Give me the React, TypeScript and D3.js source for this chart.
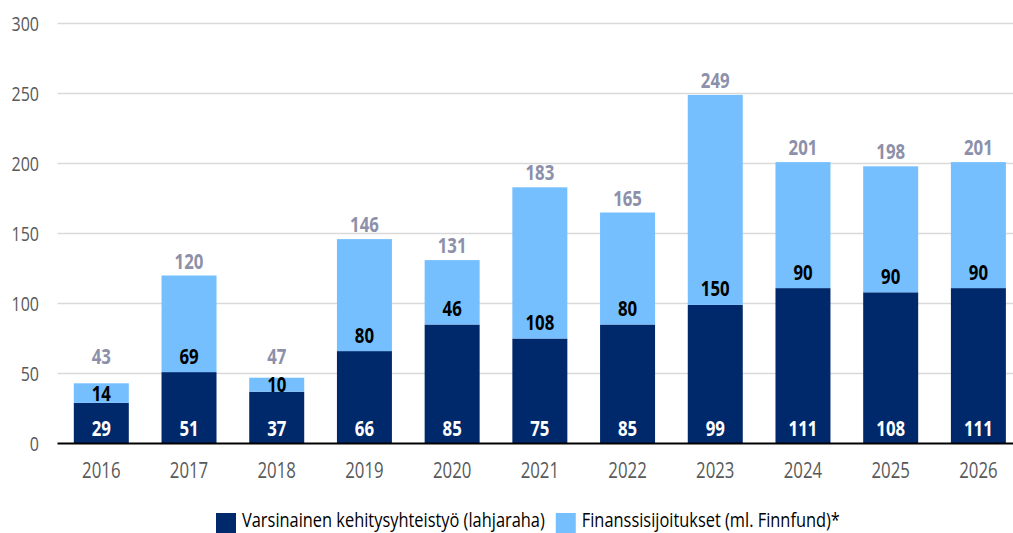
import React, { useEffect, useRef } from 'react';
import * as d3 from 'd3';

const years = ['2016', '2017', '2018', '2019', '2020', '2021', '2022', '2023', '2024', '2025', '2026'];
const varsinainen = [29, 51, 37, 66, 85, 75, 85, 99, 111, 108, 111];
const finanssi = [14, 69, 10, 80, 46, 108, 80, 150, 90, 90, 90];
const totals = [43, 120, 47, 146, 131, 183, 165, 249, 201, 198, 201];
const yTicks = [0, 50, 100, 150, 200, 250, 300];
const seriesNames = ['Varsinainen kehitysyhteistyö (lahjaraha)', 'Finanssisijoitukset (ml. Finnfund)*'];

const DARK = '#00296b';
const LIGHT = '#75bfff';
const FONT = '"Open Sans", "Noto Sans", sans-serif';
const SQUEEZE = 0.8; // no condensed font installed, so narrow the glyphs

type Sel = d3.Selection<SVGGElement, unknown, null, undefined>;

// text squeezed horizontally around its anchor point
function label(g: Sel, x: number, y: number, txt: string | number, size: number, fill: string, bold = false, anchor = 'middle') {
  return g.append('text')
    .attr('transform', `translate(${x},${y}) scale(${SQUEEZE},1)`)
    .attr('text-anchor', anchor)
    .attr('font-family', FONT)
    .attr('font-size', size)
    .attr('font-weight', bold ? 'bold' : 'normal')
    .attr('fill', fill)
    .text(txt);
}

const App: React.FC = () => {
  const svgRef = useRef<SVGSVGElement | null>(null);

  useEffect(() => {
    if (!svgRef.current) return;
    const svg = d3.select(svgRef.current);
    svg.selectAll('*').remove();

    const width = 1013;
    const left = 57.5;
    const bottom = 443.5;
    const top = 23.5;

    const x = d3.scaleBand<string>()
      .domain(years)
      .range([left, left + 11 * 87.7])
      .paddingInner(0.373)
      .paddingOuter(0.186);

    const y = d3.scaleLinear().domain([0, 300]).range([bottom, top]);
    const bw = x.bandwidth();
    const cx = (i: number) => x(years[i])! + bw / 2;

    // gridlines
    svg.append('g')
      .selectAll('line')
      .data(yTicks.filter(t => t > 0))
      .join('line')
      .attr('x1', left)
      .attr('x2', width)
      .attr('y1', d => y(d))
      .attr('y2', d => y(d))
      .attr('stroke', '#d9d9d9')
      .attr('stroke-width', 1.5);

    // y tick labels
    const yg = svg.append('g') as Sel;
    yTicks.forEach(t => label(yg, 39, y(t) + 7, t, 20, '#595959', false, 'end'));

    // dark bars
    svg.append('g')
      .selectAll('rect')
      .data(varsinainen)
      .join('rect')
      .attr('x', (d, i) => x(years[i])!)
      .attr('width', bw)
      .attr('y', d => y(d))
      .attr('height', d => bottom - y(d))
      .attr('fill', DARK);

    // light bars
    svg.append('g')
      .selectAll('rect')
      .data(finanssi)
      .join('rect')
      .attr('x', (d, i) => x(years[i])!)
      .attr('width', bw)
      .attr('y', (d, i) => y(varsinainen[i] + d))
      .attr('height', (d, i) => y(varsinainen[i]) - y(varsinainen[i] + d))
      .attr('fill', LIGHT);

    // axis line
    svg.append('line')
      .attr('x1', left)
      .attr('x2', width)
      .attr('y1', bottom)
      .attr('y2', bottom)
      .attr('stroke', '#000')
      .attr('stroke-width', 2);

    const lg = svg.append('g') as Sel;
    // x labels
    years.forEach((yr, i) => label(lg, cx(i), 478, yr, 21, '#595959'));

    // dark labels
    varsinainen.forEach((v, i) => label(lg, cx(i), bottom - 8, v, 21, '#fff', true));

    // light labels
    finanssi.forEach((v, i) => {
      const b = y(varsinainen[i]);
      const t = y(varsinainen[i] + v);
      const c = Math.max(b - 16, (t + b) / 2);
      label(lg, cx(i), c + 7.5, v, 21, '#000', true);
    });

    // totals (kept clear of the small segment labels)
    totals.forEach((v, i) => label(lg, cx(i), Math.min(y(v) - 7, y(57)), v, 21, '#8d90aa', true));

    // legend
    const legend = svg.append('g') as Sel;
    let lx = 216;
    seriesNames.forEach((name, i) => {
      legend.append('rect')
        .attr('x', lx)
        .attr('y', 513)
        .attr('width', 20)
        .attr('height', 20)
        .attr('fill', i === 0 ? DARK : LIGHT);
      const t = label(legend, lx + 26, 527, name, 20.5, '#000', false, 'start');
      const w = (t.node() as SVGTextElement).getComputedTextLength() * SQUEEZE;
      lx = lx + 26 + w + 11;
    });
  }, []);

  return (
    <svg
      ref={svgRef}
      width={1013}
      height={533}
      style={{ position: 'absolute', left: 0, top: 0, background: '#fff' }}
    />
  );
};

export default App;
